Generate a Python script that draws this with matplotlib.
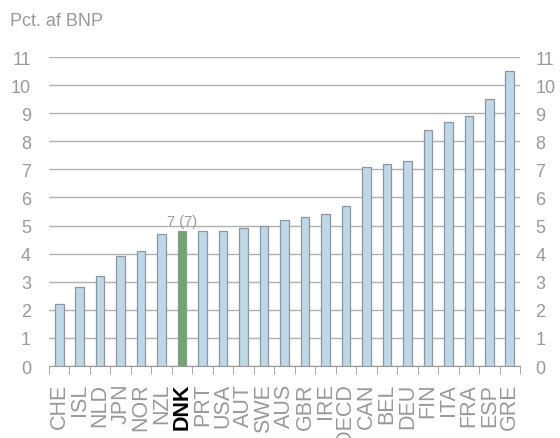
import numpy as np
import matplotlib.pyplot as plt

plt.rcParams['font.family'] = ['Liberation Sans', 'DejaVu Sans']

# data
lande = ['CHE', 'ISL', 'NLD', 'JPN', 'NOR', 'NZL', 'DNK', 'PRT', 'USA', 'AUT', 'SWE', 'AUS',
         'GBR', 'IRE', 'OECD', 'CAN', 'BEL', 'DEU', 'FIN', 'ITA', 'FRA', 'ESP', 'GRE']
vaerdier = [2.2, 2.8, 3.2, 3.9, 4.1, 4.7, 4.8, 4.8, 4.8, 4.9, 5.0, 5.2,
            5.3, 5.4, 5.7, 7.1, 7.2, 7.3, 8.4, 8.7, 8.9, 9.5, 10.5]
fremhaev = 'DNK'
dnk_tekst = '7 (7)'
yticks = list(range(0, 12))

grey = '#999999'
blue = '#bed8e7'
green = '#6fa86c'

fig = plt.figure(figsize=(5.6, 4.39), dpi=100)
ax = fig.add_axes([49 / 560, 1 - 367 / 439, 471 / 560, 309 / 439])

x = np.arange(len(lande))
colors = [green if l == fremhaev else blue for l in lande]
ax.bar(x, vaerdier, width=0.42, color=colors, edgecolor='#8c979e', linewidth=0.9, zorder=3)

ax.set_xlim(-0.5, len(lande) - 0.5)
ax.set_ylim(0, 11)
ax.set_yticks(yticks)
ax.yaxis.grid(True, color='#b0b0b0', linewidth=1.0, zorder=0)
ax.tick_params(axis='y', length=0, labelsize=13, labelcolor=grey, pad=13)
for s in ['top', 'right', 'left']:
    ax.spines[s].set_visible(False)
ax.spines['bottom'].set_color('#999999')

# højre akse med samme skala
ax2 = ax.twinx()
ax2.set_ylim(ax.get_ylim())
ax2.set_yticks(yticks)
ax2.tick_params(axis='y', length=0, labelsize=13, labelcolor=grey, pad=11)
for s in ax2.spines.values():
    s.set_visible(False)

# kategori-ticks mellem søjlerne
ax.set_xticks(np.arange(-0.5, len(lande), 1.0), minor=True)
ax.set_xticks(x)
ax.set_xticklabels(lande, rotation=90, fontsize=15.5)
ax.tick_params(axis='x', which='major', length=0, pad=12)
ax.tick_params(axis='x', which='minor', length=6, color='#999999', direction='out')
for lbl in ax.get_xticklabels():
    if lbl.get_text() == fremhaev:
        lbl.set_color('black')
        lbl.set_fontweight('bold')
    else:
        lbl.set_color(grey)

i = lande.index(fremhaev)
ax.text(i, vaerdier[i] + 0.12, dnk_tekst, ha='center', va='bottom', fontsize=10.5, color=grey)

fig.text(10 / 560, 1 - 21 / 439, 'Pct. af BNP', fontsize=13, color=grey, va='center', ha='left')

fig.savefig('out.png', dpi=100)
